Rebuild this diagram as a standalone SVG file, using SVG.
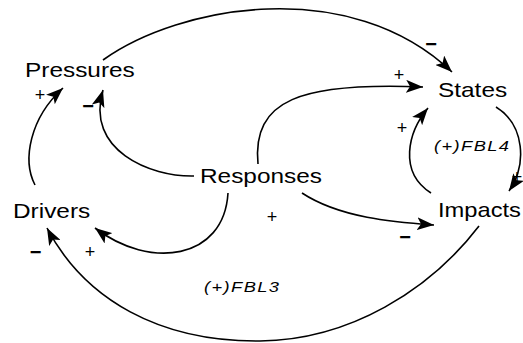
<svg xmlns="http://www.w3.org/2000/svg" width="523" height="343" viewBox="0 0 523 343">
<defs>
<marker id="ah" viewBox="0 0 17 13" markerUnits="userSpaceOnUse" markerWidth="17" markerHeight="13" refX="17" refY="6.5" orient="auto">
<path d="M0,0 L17,6.5 L0,13 L4,6.5 z" fill="#000"/>
</marker>
<style>
.n{font-family:"Liberation Sans",Arial,Helvetica,sans-serif;font-size:20px;fill:#000}
.l{font-family:"Liberation Sans",Arial,Helvetica,sans-serif;font-size:15px;font-style:italic;fill:#000}
.p{font-family:"Liberation Sans",Arial,Helvetica,sans-serif;font-size:18px;fill:#000;text-anchor:middle}
.m{font-family:"Liberation Sans",Arial,Helvetica,sans-serif;font-size:20px;font-weight:bold;fill:#000;text-anchor:middle}
.c{fill:none;stroke:#000;stroke-width:1.6;marker-end:url(#ah)}
</style>
</defs>
<rect width="523" height="343" fill="#fff"/>
<g id="connectors">
<path class="c" d="M103,60 C180,5 350,-25 452,72"/>
<path class="c" d="M258,164 C252,100 300,82 423,87"/>
<path class="c" d="M431,193 C398,172 408,132 428,108"/>
<path class="c" d="M496,107 C525,125 527,165 509,191"/>
<path class="c" d="M302,193 C340,218 394,222 434,225"/>
<path class="c" d="M479,226 C430,290 350,340 260,341 C160,342 85,300 47,228"/>
<path class="c" d="M228,193 C224,260 150,270 95,228"/>
<path class="c" d="M35,185 C22,160 30,118 63,88"/>
<path class="c" d="M194,176 C150,177 85,150 103,90"/>
</g>
<g id="signs">
<text class="m" x="431" y="50.6">−</text>
<text class="p" x="399" y="81.3">+</text>
<text class="p" x="402" y="134.3">+</text>
<text class="p" x="517" y="183.3">+</text>
<text class="m" x="405" y="243.6">−</text>
<text class="p" x="272" y="223.3">+</text>
<text class="p" x="90" y="258.3">+</text>
<text class="m" x="35.5" y="258.6">−</text>
<text class="p" x="40" y="101.3">+</text>
<text class="m" x="88" y="112.6">−</text>
</g>
<g id="loops">
<text class="l" transform="translate(434,151) scale(1.22,1)" textLength="61.5" lengthAdjust="spacing">(+)FBL4</text>
<text class="l" transform="translate(204,292) scale(1.22,1)" textLength="61.5" lengthAdjust="spacing">(+)FBL3</text>
</g>
<g id="pressures"><text class="n" transform="translate(25,77) scale(1.22,1)">Pressures</text></g>
<g id="states"><text class="n" transform="translate(438,97) scale(1.22,1)">States</text></g>
<g id="responses"><text class="n" transform="translate(200,183) scale(1.22,1)">Responses</text></g>
<g id="drivers"><text class="n" transform="translate(13,218) scale(1.22,1)">Drivers</text></g>
<g id="impacts"><text class="n" transform="translate(438,217) scale(1.185,1)">Impacts</text></g>
</svg>
